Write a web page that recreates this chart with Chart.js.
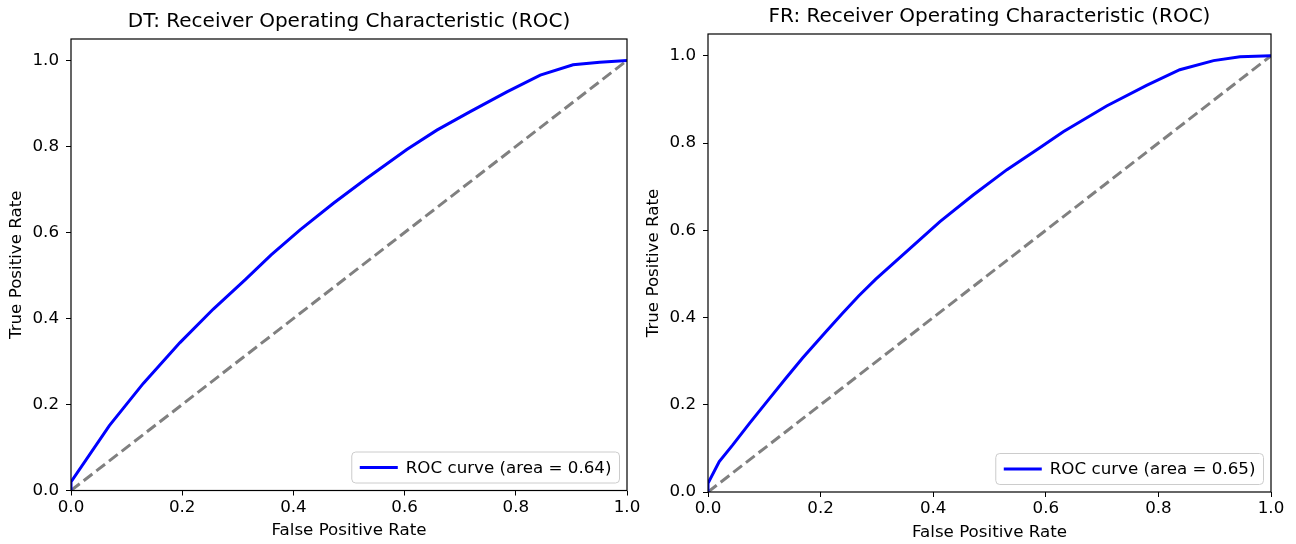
<!DOCTYPE html>
<html>
<head>
<meta charset="utf-8">
<script src="https://cdn.jsdelivr.net/npm/chart.js@4.4.1/dist/chart.umd.min.js"></script>
<style>
  html, body { margin: 0; padding: 0; background: #fff; }
  #wrap { position: relative; width: 1296px; height: 544px; }
  canvas { position: absolute; top: 0; }
  #dt { left: 0; }
  #fr { left: 640px; }
</style>
</head>
<body>
<div id="wrap">
  <canvas id="dt" width="648" height="544"></canvas>
  <canvas id="fr" width="656" height="544"></canvas>
</div>
<script>
// tick labels shared by both axes of both plots
const tickValues = [0, 0.2, 0.4, 0.6, 0.8, 1.0];

// DT roc curve
const dtFpr = [0, 0, 0.069, 0.130, 0.196, 0.256, 0.313, 0.360, 0.412, 0.472, 0.532, 0.604, 0.658, 0.718, 0.784, 0.844, 0.903, 0.951, 1.0];
const dtTpr = [0, 0.02, 0.151, 0.249, 0.344, 0.422, 0.490, 0.548, 0.606, 0.668, 0.726, 0.793, 0.838, 0.881, 0.927, 0.966, 0.990, 0.996, 1.0];
const dtArea = 0.64;

// FR roc curve
const frFpr = [0, 0, 0.020, 0.044, 0.074, 0.109, 0.139, 0.168, 0.209, 0.239, 0.268, 0.298, 0.412, 0.471, 0.531, 0.590, 0.631, 0.708, 0.779, 0.838, 0.898, 0.945, 1.0];
const frTpr = [0, 0.02, 0.070, 0.108, 0.158, 0.214, 0.262, 0.307, 0.367, 0.410, 0.450, 0.488, 0.620, 0.681, 0.739, 0.790, 0.826, 0.885, 0.932, 0.968, 0.989, 0.998, 1.0];
const frArea = 0.65;

// random-guess diagonal
const chance = [0, 1];

const FONT = '"DejaVu Sans", sans-serif';
Chart.defaults.color = '#000';
Chart.defaults.font.family = FONT;

const frameAndLegend = {
  id: 'frameAndLegend',
  afterDatasetsDraw(chart, args, opts) {
    const { ctx, chartArea: a } = chart;
    ctx.save();
    ctx.strokeStyle = '#000';
    ctx.lineWidth = 1.2;
    ctx.strokeRect(a.left, a.top, a.right - a.left, a.bottom - a.top);

    // title centred over the axes, as matplotlib does
    ctx.font = '20px ' + FONT;
    ctx.fillStyle = '#000';
    ctx.textAlign = 'center';
    ctx.textBaseline = 'middle';
    ctx.fillText(opts.title, (a.left + a.right) / 2, opts.titleY);

    // legend box in the lower right corner (loc="lower right")
    const ds = chart.data.datasets[0];
    ctx.font = '16.7px ' + FONT;
    const tw = ctx.measureText(ds.label).width;
    const padX = 8, handle = 38, gap = 8, h = 31;
    const w = padX + handle + gap + tw + padX;
    const x = a.right - 7.5 - w, y = a.bottom - 7.5 - h;
    ctx.beginPath();
    ctx.roundRect(x, y, w, h, 4);
    ctx.fillStyle = 'rgba(255,255,255,0.8)';
    ctx.fill();
    ctx.strokeStyle = '#cccccc';
    ctx.lineWidth = 1;
    ctx.stroke();
    ctx.beginPath();
    ctx.moveTo(x + padX, y + h / 2);
    ctx.lineTo(x + padX + handle, y + h / 2);
    ctx.strokeStyle = ds.borderColor;
    ctx.lineWidth = 3;
    ctx.stroke();
    ctx.fillStyle = '#000';
    ctx.textAlign = 'left';
    ctx.fillText(ds.label, x + padX + handle + gap, y + h / 2 + 1);
    ctx.restore();
  }
};

function rocChart(id, title, fpr, tpr, area, lay) {
  const setTicks = s => { s.ticks = tickValues.map(v => ({ value: v })); };
  const tickFont = { size: 16.7 };
  return new Chart(document.getElementById(id), {
    type: 'scatter',
    data: {
      datasets: [
        {
          label: 'ROC curve (area = ' + area.toFixed(2) + ')',
          data: fpr.map((x, i) => ({ x, y: tpr[i] })),
          showLine: true,
          borderColor: '#0000ff',
          borderWidth: 3,
          pointRadius: 0,
          tension: 0
        },
        {
          label: 'chance',
          data: chance.map(v => ({ x: v, y: v })),
          showLine: true,
          borderColor: '#808080',
          borderWidth: 3,
          borderDash: [11, 5],
          pointRadius: 0
        }
      ]
    },
    options: {
      responsive: false,
      animation: false,
      layout: { padding: { left: 0, right: lay.right, top: lay.top, bottom: 0 } },
      plugins: {
        legend: { display: false },
        tooltip: { enabled: false },
        title: { display: false },
        frameAndLegend: { title: title, titleY: lay.titleY }
      },
      scales: {
        x: {
          type: 'linear',
          min: 0,
          max: 1,
          afterBuildTicks: setTicks,
          afterFit: s => { s.height = lay.xh; },
          ticks: { font: tickFont, padding: 2, maxRotation: 0, autoSkip: false, callback: v => v.toFixed(1) },
          grid: { drawOnChartArea: false, tickLength: 5, color: '#000', tickWidth: 1 },
          border: { display: false },
          title: { display: true, text: 'False Positive Rate', font: { size: 16.7 }, padding: { top: 0, bottom: lay.xTitleBottom } }
        },
        y: {
          type: 'linear',
          min: 0,
          max: 1.05,
          afterBuildTicks: setTicks,
          afterFit: s => { s.width = lay.yw; },
          ticks: { font: tickFont, padding: 7, autoSkip: false, callback: v => v.toFixed(1) },
          grid: { drawOnChartArea: false, tickLength: 5, color: '#000', tickWidth: 1 },
          border: { display: false },
          title: { display: true, text: 'True Positive Rate', font: { size: 16.7 }, padding: { top: lay.yTitleTop, bottom: 0 } }
        }
      }
    },
    plugins: [frameAndLegend]
  });
}

rocChart('dt', 'DT: Receiver Operating Characteristic (ROC)', dtFpr, dtTpr, dtArea,
  { right: 21, top: 39, titleY: 22, xh: 53.5, xTitleBottom: 3, yw: 71, yTitleTop: 7 });
rocChart('fr', 'FR: Receiver Operating Characteristic (ROC)', frFpr, frTpr, frArea,
  { right: 25, top: 34, titleY: 17, xh: 52, xTitleBottom: 1, yw: 68, yTitleTop: 4 });
</script>
</body>
</html>
